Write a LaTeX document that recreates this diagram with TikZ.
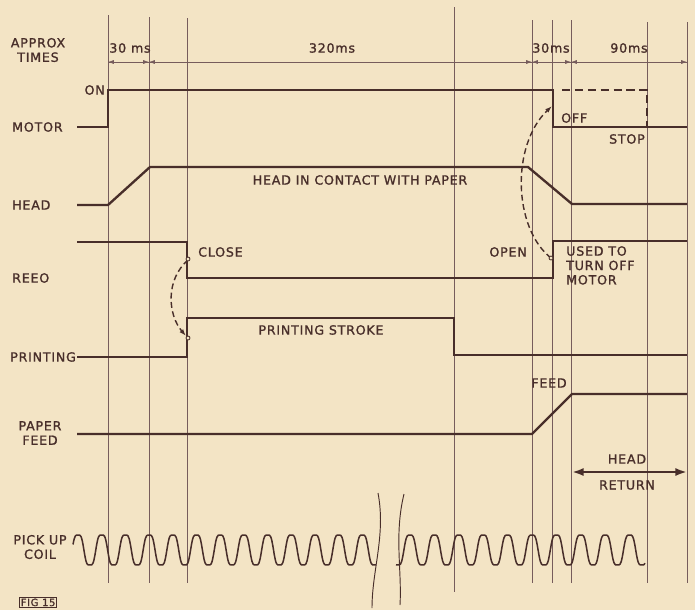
\documentclass[tikz,border=0pt]{standalone}
\usepackage{fontspec}
\setsansfont[LetterSpace=6,FakeBold=1.2]{DejaVu Sans}
\usepackage{xcolor}
\usetikzlibrary{arrows.meta}
\definecolor{paper}{RGB}{243,228,197}
\definecolor{ink}{RGB}{72,46,42}
\definecolor{rule}{RGB}{118,92,92}

\begin{document}
\begin{tikzpicture}[x=0.3mm,y=-0.3mm,
    font=\sffamily\fontsize{10.8}{12.3}\selectfont, text=ink,
    sig/.style={ink, line width=2pt},
    tline/.style={rule, line width=0.6pt},
    coil/.style={ink, line width=1.3pt},
    lbl/.style={inner sep=0pt, align=center},
    tip/.style={{Latex[length=5pt,width=3.5pt]}-{Latex[length=5pt,width=3.5pt]}}]
  \useasboundingbox (0,0) rectangle (695,610);
  \fill[paper] (0,0) rectangle (695,610);
  % Time marker lines
  \foreach \x/\t/\b in {108/15/583, 149/17/583, 187/18/583, 454/7/592,
                        532/20/583, 552/20/583, 571/20/583, 647/22/583, 687/22/583}
    \draw[tline] (\x,\t) -- (\x,\b);
  % Approx times
  \draw[tline] (108,62) -- (687,62);
  \foreach \a/\b in {108/149, 149/532, 532/571, 571/687}
    \draw[tline,tip] (\a,62) -- (\b,62);
  \node[lbl] (times) at (38,50) {APPROX\\TIMES};
  \node[lbl] (t1) at (130,48) {30 ms};
  \node[lbl] (t2) at (332,48) {320ms};
  \node[lbl] (t3) at (551,48) {30ms};
  \node[lbl] (t4) at (629,48) {90ms};
  % Motor
  \draw[sig] (77,127) -- (108,127) -- (108,90) -- (553,90) -- (553,127) -- (687,127);
  \draw[sig,dash pattern=on 7pt off 4pt] (562,90) -- (647,90) -- (647,127);
  \node[lbl,anchor=west] (motor) at (12,127) {MOTOR};
  \node[lbl,anchor=east] (on) at (105,90) {ON};
  \node[lbl,anchor=west] (off) at (561,118) {OFF};
  \node[lbl,anchor=east] (stop) at (645,139) {STOP};
  % Head
  \draw[sig] (77,205) -- (108,205) -- (150,167) -- (528,167) -- (572,204) -- (687,204);
  \node[lbl,anchor=west] (head) at (12,205) {HEAD};
  \node[lbl] (contact) at (360,180) {HEAD IN CONTACT WITH PAPER};
  % Reed
  \draw[sig] (77,242) -- (187,242) -- (187,278) -- (553,278) -- (553,241) -- (687,241);
  \node[lbl,anchor=west] (reed) at (12,278) {REEO};
  \node[lbl,anchor=west] (close) at (198,252) {CLOSE};
  \node[lbl,anchor=east] (open) at (527,252) {OPEN};
  \node[lbl,anchor=north west,align=left] (used) at (566,246) {USED TO\\TURN OFF\\MOTOR};
  % Printing
  \draw[sig] (77,357) -- (187,357) -- (187,318) -- (454,318) -- (454,355) -- (687,355);
  \node[lbl,anchor=west] (printing) at (10,357) {PRINTING};
  \node[lbl] (stroke) at (321,330) {PRINTING STROKE};
  % Paper feed
  \draw[sig] (77,434) -- (532,434) -- (572,394) -- (687,394);
  \node[lbl] (paperfeed) at (40,433) {PAPER\\FEED};
  \node[lbl] (feed) at (549,383) {FEED};
  % Head return
  \draw[ink,line width=2.4pt,{Latex[length=10pt,width=7pt]}-{Latex[length=10pt,width=7pt]}]
    (572,472) -- (687,472);
  \node[lbl] (hd) at (627,459) {HEAD};
  \node[lbl] (ret) at (627,485) {RETURN};
  % Dashed links
  \draw[ink,line width=1.2pt,dash pattern=on 5pt off 3pt,-{Latex[length=6pt,width=4pt]}]
    (188,260) .. controls (165,280) and (168,315) .. (186,336);
  \draw[ink,line width=1.2pt,dash pattern=on 5pt off 3pt,-{Latex[length=6pt,width=4pt]}]
    (551,258) .. controls (513,228) and (511,145) .. (552,106);
  \draw[ink,line width=0.7pt,fill=paper] (188,259) circle (2) (188,338) circle (2) (551,258) circle (2);
  % Pick up coil
  \node[lbl] (coil) at (40,547) {PICK UP\\COIL};
  \draw[coil] plot[domain=73:376,samples=260,smooth]
    (\x,{550-17*(cos((\x-78)/23.7*360)-0.125*cos(3*((\x-78)/23.7*360)))});
  \draw[coil] plot[domain=396:645,samples=220,smooth]
    (\x,{550-17*(cos((\x-410)/24.4*360)-0.125*cos(3*((\x-410)/24.4*360)))});
  % Break
  \draw[ink,line width=0.8pt] (378,493) .. controls (386,535) and (372,570) .. (372,608);
  \draw[ink,line width=0.8pt] (404,494) .. controls (394,535) and (402,570) .. (400,605);
  % Figure tag
  \node[draw=ink,line width=0.7pt,inner sep=1.2pt,anchor=south west,
        font=\sffamily\fontsize{8.5}{9}\selectfont] (fig) at (19,608) {FIG 15};
\end{tikzpicture}
\end{document}
